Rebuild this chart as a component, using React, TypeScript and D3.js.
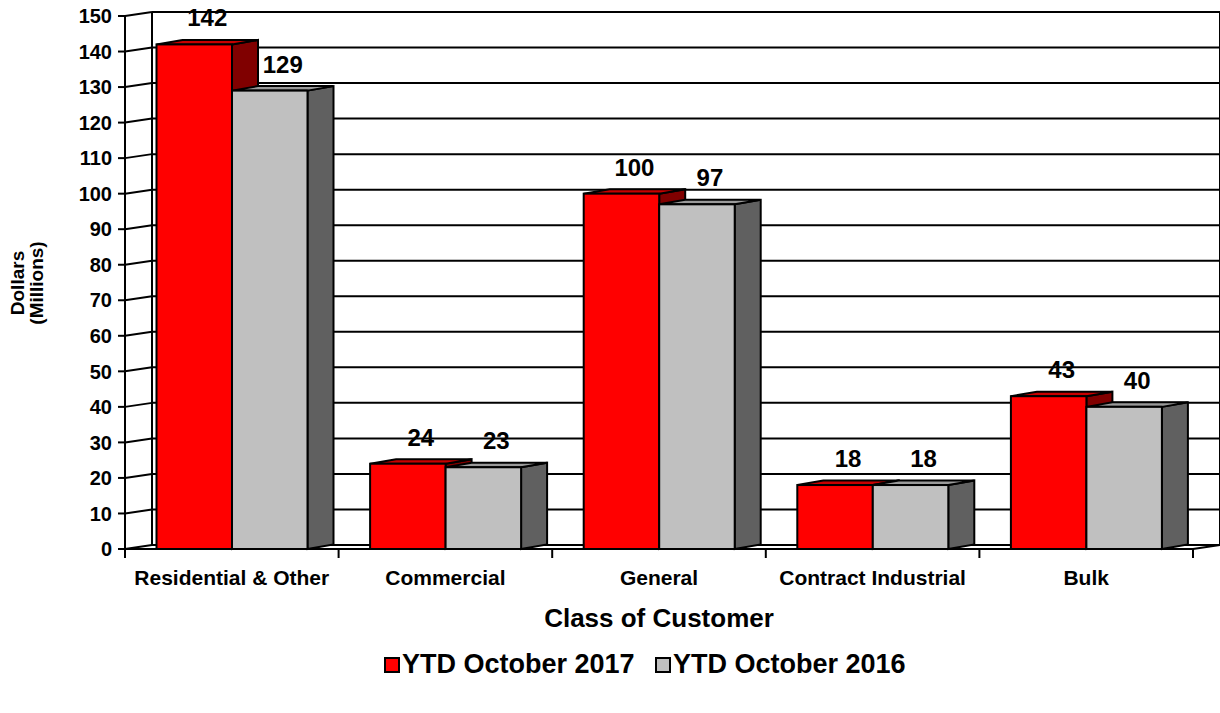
import React from 'react'
import * as d3 from 'd3'

const categories = ['Residential & Other', 'Commercial', 'General', 'Contract Industrial', 'Bulk']
const seriesNames = ['YTD October 2017', 'YTD October 2016']
const values2017 = [142, 24, 100, 18, 43]
const values2016 = [129, 23, 97, 18, 40]
const yTicks = d3.range(0, 151, 10)

const frontColors = ['#ff0000', '#c0c0c0']
const sideColors = ['#800000', '#606060']
const topColors = ['#c80000', '#9a9a9a']

const W = 1220
const H = 713
const FONT = '"Liberation Sans", Arial, sans-serif'

// plot geometry
const x0 = 125
const x1 = 1193
const yBase = 549
const yTop = 16
const wallDx = 27
const wallDy = -4
const barDx = 26
const barDy = -4.5

const App: React.FC = () => {
  const y = d3.scaleLinear().domain([0, 150]).range([yBase, yTop])
  const xCat = d3.scaleBand<string>().domain(categories).range([x0, x1])
  const xSeries = d3.scaleBand<string>().domain(seriesNames).range([31.5, 182.5])
  const bw = xSeries.bandwidth()
  const series = [values2017, values2016]

  const bars: React.ReactNode[] = []
  const labels: React.ReactNode[] = []
  categories.forEach((c, ci) => {
    seriesNames.forEach((s, si) => {
      const v = series[si][ci]
      const bx = (xCat(c) ?? 0) + (xSeries(s) ?? 0)
      const by = y(v)
      const top = `${bx},${by} ${bx + barDx},${by + barDy} ${bx + bw + barDx},${by + barDy} ${bx + bw},${by}`
      const side = `${bx + bw},${by} ${bx + bw + barDx},${by + barDy} ${bx + bw + barDx},${yBase + barDy} ${bx + bw},${yBase}`
      bars.push(
        <g key={`${ci}-${si}`} stroke="#000" strokeWidth={2} strokeLinejoin="miter">
          <polygon points={side} fill={sideColors[si]} />
          <polygon points={top} fill={topColors[si]} />
          <rect x={bx} y={by} width={bw} height={yBase - by} fill={frontColors[si]} />
        </g>
      )
      labels.push(
        <text
          key={`l-${ci}-${si}`}
          x={bx + bw / 2 + barDx / 2}
          y={by - 18}
          textAnchor="middle"
          fontSize={24}
          fontWeight="bold"
        >
          {v}
        </text>
      )
    })
  })

  return (
    <div style={{ position: 'fixed', left: 0, top: 0, width: W, height: H, background: '#fff' }}>
      <svg width={W} height={H} fontFamily={FONT}>
        <rect width={W} height={H} fill="#fff" />
        {/* back wall + side wall grid */}
        <g stroke="#000" strokeWidth={2} fill="none">
          {yTicks.map(t => (
            <g key={t}>
              <line x1={x0 + wallDx} x2={x1 + wallDx} y1={y(t) + wallDy} y2={y(t) + wallDy} />
              <line x1={x0} x2={x0 + wallDx} y1={y(t)} y2={y(t) + wallDy} />
              <line x1={x0 - 7} x2={x0} y1={y(t)} y2={y(t)} />
            </g>
          ))}
          <line x1={x0 + wallDx} x2={x0 + wallDx} y1={y(150) + wallDy} y2={yBase + wallDy} />
          <line x1={x1 + wallDx} x2={x1 + wallDx} y1={y(150) + wallDy} y2={yBase + wallDy} />
          <line x1={x0} x2={x0} y1={y(150)} y2={yBase + 9} />
          <line x1={x0} x2={x1} y1={yBase} y2={yBase} />
          <line x1={x1} x2={x1 + wallDx} y1={yBase} y2={yBase + wallDy} />
          {categories.map(c => (
            <line key={c} x1={(xCat(c) ?? 0) + xCat.bandwidth()} x2={(xCat(c) ?? 0) + xCat.bandwidth()} y1={yBase} y2={yBase + 9} />
          ))}
        </g>
        {bars}
        {labels}
        {/* y tick labels */}
        {yTicks.map(t => (
          <text key={t} x={112} y={y(t)} dy="0.36em" textAnchor="end" fontSize={20} fontWeight="bold">
            {t}
          </text>
        ))}
        {/* category labels */}
        {categories.map(c => (
          <text
            key={c}
            x={(xCat(c) ?? 0) + xCat.bandwidth() / 2}
            y={585}
            textAnchor="middle"
            fontSize={21}
            fontWeight="bold"
          >
            {c}
          </text>
        ))}
        <text x={(x0 + x1) / 2} y={627} textAnchor="middle" fontSize={26} fontWeight="bold">
          Class of Customer
        </text>
        <g transform="translate(24,283) rotate(-90)">
          <text x={0} y={0} textAnchor="middle" fontSize={19} fontWeight="bold">Dollars</text>
          <text x={0} y={19} textAnchor="middle" fontSize={19} fontWeight="bold">(Millions)</text>
        </g>
        {/* legend */}
        {seriesNames.map((s, i) => {
          const lx = i === 0 ? 385 : 656
          return (
            <g key={s}>
              <rect x={lx} y={658} width={14} height={14} fill={frontColors[i]} stroke="#000" strokeWidth={2} />
              <text x={lx + 17} y={673} fontSize={27} fontWeight="bold">{s}</text>
            </g>
          )
        })}
      </svg>
    </div>
  )
}

export default App
